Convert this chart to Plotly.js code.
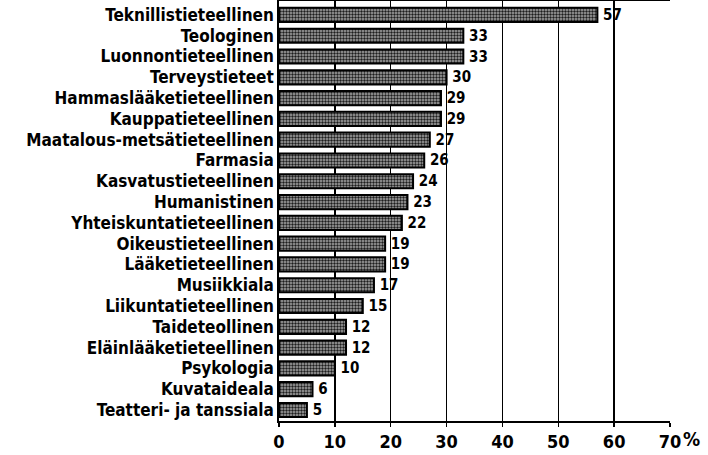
<!DOCTYPE html>
<html>
<head>
<meta charset="utf-8">
<script src="https://cdn.plot.ly/plotly-3.0.1.min.js"></script>
<style>html,body{margin:0;padding:0;background:#fff;}#chart{width:708px;height:455px;}</style>
</head>
<body>
<div id="chart"></div>
<script>
const categories = [
  "Teknillistieteellinen","Teologinen","Luonnontieteellinen","Terveystieteet",
  "Hammaslääketieteellinen","Kauppatieteellinen","Maatalous-metsätieteellinen","Farmasia",
  "Kasvatustieteellinen","Humanistinen","Yhteiskuntatieteellinen","Oikeustieteellinen",
  "Lääketieteellinen","Musiikkiala","Liikuntatieteellinen","Taideteollinen",
  "Eläinlääketieteellinen","Psykologia","Kuvataideala","Teatteri- ja tanssiala"
];
const values = [57,33,33,30,29,29,27,26,24,23,22,19,19,17,15,12,12,10,6,5];
const tickVals = [0,10,20,30,40,50,60,70];
const tickText = ["0","10","20","30","40","50","60","70"];

const FONT = "'DejaVu Sans Condensed', 'Liberation Sans Narrow', 'Arial Narrow', sans-serif";

const trace = {
  type: 'bar',
  orientation: 'h',
  x: values,
  y: categories,
  text: values.map(v => '\u2009' + v),
  textposition: 'outside',
  constraintext: 'none',
  cliponaxis: false,
  textfont: {family: FONT, size: 15, color: '#000', weight: 700},
  marker: {
    color: '#8c8c8c',
    line: {color: '#000', width: 2},
    pattern: {shape: '.', fgcolor: '#1e1e1e', bgcolor: '#a8a8a8', size: 3, solidity: 0.5}
  },
  hoverinfo: 'none'
};

const layout = {
  width: 708, height: 455,
  margin: {l: 279, r: 38, t: 1, b: 34},
  paper_bgcolor: '#fff', plot_bgcolor: '#fff',
  showlegend: false,
  bargap: 0.32,
  font: {family: FONT, color: '#000', weight: 700},
  xaxis: {
    range: [0, 70],
    tickvals: tickVals, ticktext: tickText,
    showgrid: true, gridcolor: '#000', gridwidth: 1.3,
    showline: true, linecolor: '#000', linewidth: 1.5, mirror: true,
    ticks: 'outside', ticklen: 4, tickcolor: '#000', tickwidth: 1.5,
    tickfont: {family: FONT, size: 18, color: '#000', weight: 700},
    zeroline: false, fixedrange: true
  },
  yaxis: {
    range: [19.53, -0.67],
    showline: true, linecolor: '#000', linewidth: 1.8,
    showgrid: false, ticks: '', ticklabelstandoff: 0,
    tickfont: {family: FONT, size: 17, color: '#000', weight: 700},
    fixedrange: true
  },
  annotations: [{
    xref: 'paper', yref: 'paper', x: 1, y: 0,
    xanchor: 'left', yanchor: 'top', xshift: 11, yshift: -5,
    text: '%', showarrow: false,
    font: {family: FONT, size: 19, color: '#000', weight: 700}
  }]
};

Plotly.newPlot('chart', [trace], layout, {displayModeBar: false, staticPlot: true});
</script>
</body>
</html>
